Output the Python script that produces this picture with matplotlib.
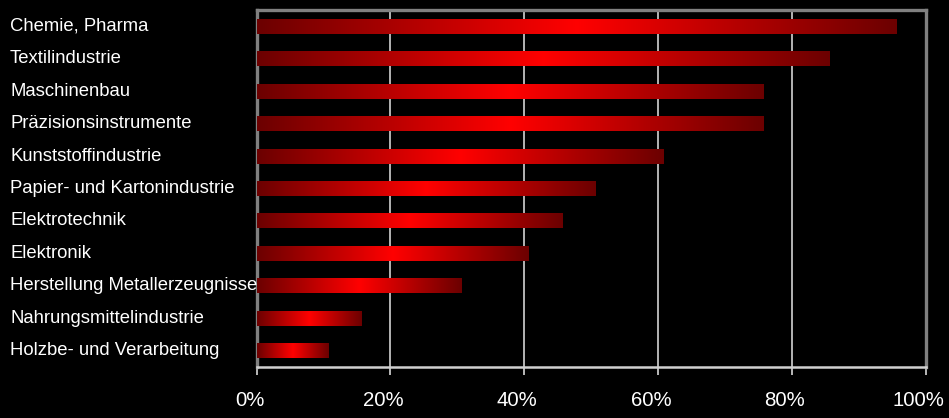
import numpy as np
import matplotlib.pyplot as plt
import matplotlib.transforms as mtransforms
from matplotlib.colors import LinearSegmentedColormap

plt.rcParams['font.family'] = ['Liberation Sans', 'DejaVu Sans']

# Daten (Anteil in %)
branchen = [
    'Chemie, Pharma',
    'Textilindustrie',
    'Maschinenbau',
    'Präzisionsinstrumente',
    'Kunststoffindustrie',
    'Papier- und Kartonindustrie',
    'Elektrotechnik',
    'Elektronik',
    'Herstellung Metallerzeugnisse',
    'Nahrungsmittelindustrie',
    'Holzbe- und Verarbeitung',
]
werte = [95.6, 85.6, 75.7, 75.7, 60.8, 50.6, 45.7, 40.6, 30.6, 15.6, 10.7]
xticks = [0, 20, 40, 60, 80, 100]
xtick_labels = ['0%', '20%', '40%', '60%', '80%', '100%']

# Farbverlauf dunkelrot -> rot -> dunkelrot
verlauf = LinearSegmentedColormap.from_list('rot', ['#6c0000', '#ff0000', '#6c0000'])
grad = np.linspace(0, 1, 256).reshape(1, -1)

fig = plt.figure(figsize=(9.49, 4.18), dpi=100, facecolor='black')
ax = fig.add_axes([256.5 / 949, 51 / 418, 669 / 949, 357 / 418])
ax.set_facecolor('black')

pos = np.arange(len(branchen))
balken = ax.barh(pos, werte, height=0.46, color='none', edgecolor='none', zorder=3)
for b in balken:
    x0, y0 = b.get_x(), b.get_y()
    w, h = b.get_width(), b.get_height()
    img = ax.imshow(grad, cmap=verlauf, aspect='auto', interpolation='bilinear',
                    extent=[x0, x0 + w, y0 + h, y0], zorder=3)
    img.set_clip_path(b)

ax.set_xlim(0, 100)
ax.set_ylim(len(branchen) - 0.5, -0.5)

# Gitter
for xv in xticks[1:-1]:
    ax.axvline(xv, color='#b4b4b4', linewidth=1.4, zorder=1)

# Rahmen
for s in ['top', 'left', 'right']:
    ax.spines[s].set_color('#808080')
    ax.spines[s].set_linewidth(2.4)
ax.spines['bottom'].set_color('#d0d0d0')
ax.spines['bottom'].set_linewidth(1.8)

ax.set_yticks([])
ax.set_xticks(xticks)
ax.set_xticklabels(xtick_labels)
ax.tick_params(axis='x', colors='#d8d8d8', length=5.5, width=1.2, pad=12,
               labelsize=14.7, labelcolor='white')
# Beschriftungen etwas nach links versetzt wie im Original
versatz = mtransforms.ScaledTranslation(-7 / 100, 0, fig.dpi_scale_trans)
for lbl in ax.get_xticklabels():
    lbl.set_transform(lbl.get_transform() + versatz)

# Beschriftungen links
trans = mtransforms.blended_transform_factory(fig.transFigure, ax.transData)
for i, name in enumerate(branchen):
    fig.text(10 / 949, pos[i], name, transform=trans, ha='left', va='center',
             fontsize=13.3, color='white', zorder=5)

fig.savefig('out.png', dpi=100, facecolor='black')
